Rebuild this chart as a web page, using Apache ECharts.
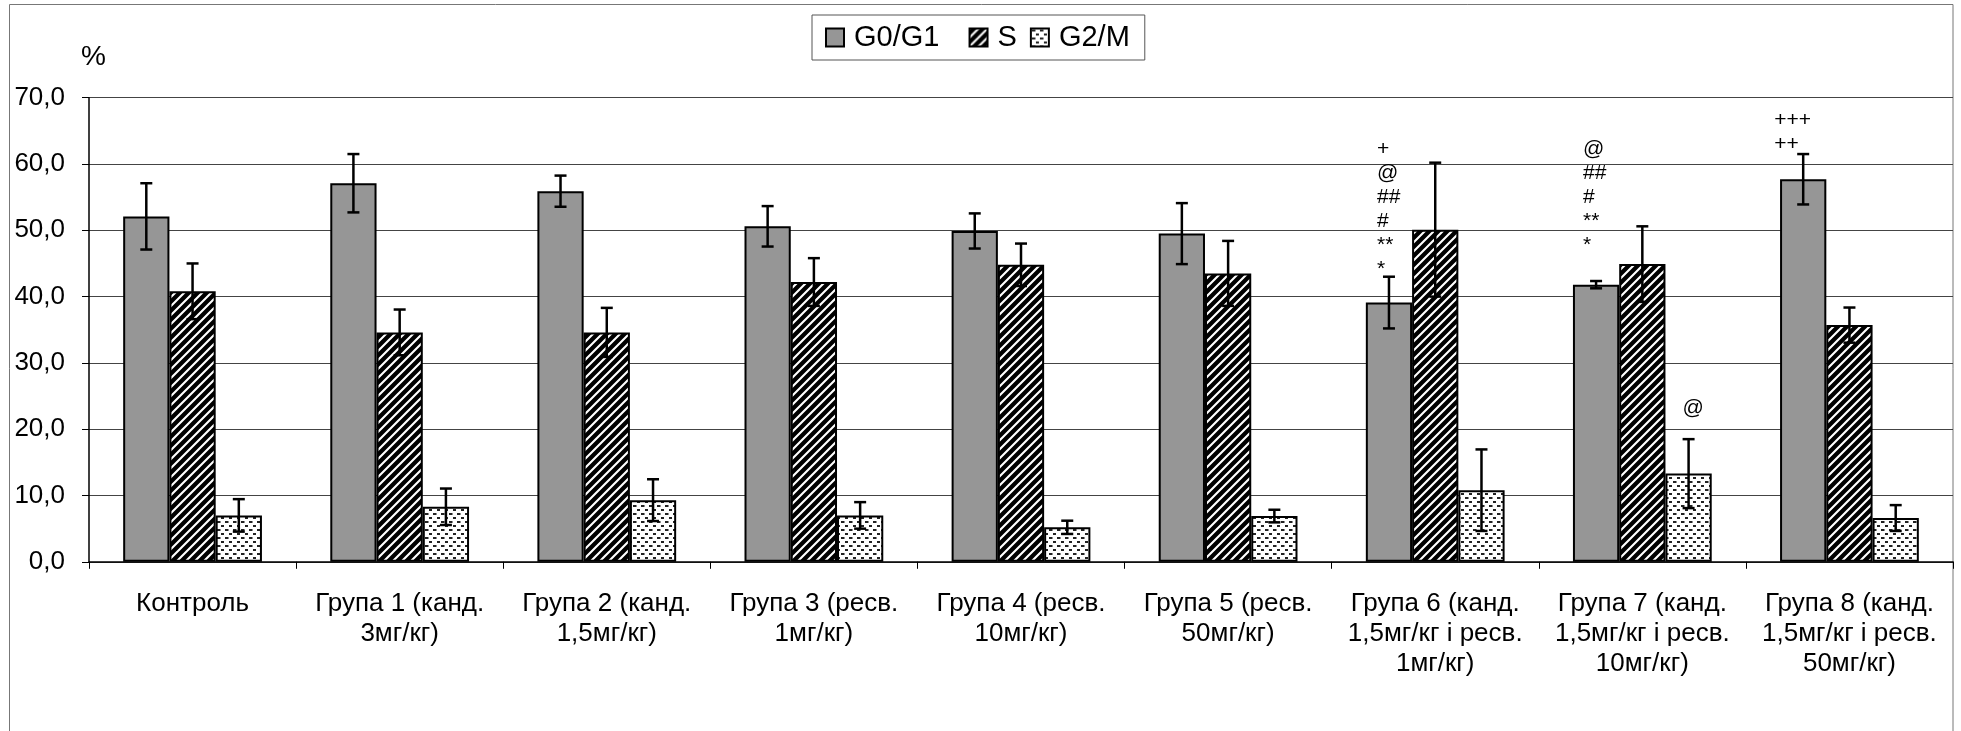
<!DOCTYPE html>
<html>
<head>
<meta charset="utf-8">
<script src="https://cdn.jsdelivr.net/npm/echarts@6/dist/echarts.min.js"></script>
<style>
html,body{margin:0;padding:0;background:#fff;}
#chart{width:1961px;height:731px;}
</style>
</head>
<body>
<div id="chart"></div>
<script>
// ---------- data ----------
const categories = [
  'Контроль',
  'Група 1 (канд.\n3мг/кг)',
  'Група 2 (канд.\n1,5мг/кг)',
  'Група 3 (ресв.\n1мг/кг)',
  'Група 4 (ресв.\n10мг/кг)',
  'Група 5 (ресв.\n50мг/кг)',
  'Група 6 (канд.\n1,5мг/кг і ресв.\n1мг/кг)',
  'Група 7 (канд.\n1,5мг/кг і ресв.\n10мг/кг)',
  'Група 8 (канд.\n1,5мг/кг і ресв.\n50мг/кг)'
];
const seriesNames = ['G0/G1', 'S', 'G2/M'];
const g0Values = [52.1, 57.1, 55.9, 50.6, 49.9, 49.5, 39.1, 41.8, 57.7];
const g0Errors = [5.0, 4.4, 2.35, 3.05, 2.65, 4.6, 3.9, 0.55, 3.8];
const sValues  = [40.8, 34.6, 34.6, 42.2, 44.8, 43.5, 50.1, 44.9, 35.7];
const sErrors  = [4.2, 3.45, 3.7, 3.6, 3.2, 4.9, 10.1, 5.7, 2.65];
const g2Values = [7.0, 8.3, 9.3, 7.0, 5.2, 6.9, 10.8, 13.3, 6.6];
const g2Errors = [2.45, 2.75, 3.15, 2.0, 1.0, 0.95, 6.15, 5.2, 1.95];
const yTickValues = [0, 10, 20, 30, 40, 50, 60, 70];
const yTickLabels = ['0,0', '10,0', '20,0', '30,0', '40,0', '50,0', '60,0', '70,0'];
const yUnit = '%';
// significance marks: which series / category they sit above
const annotationSeries = [0, 0, 0, 2];
const annotationCats   = [6, 7, 8, 7];
const annotationTexts  = ['+\n@\n##\n#\n**\n*', '@\n##\n#\n**\n*', '+++\n++', '@'];
// ---------- style ----------
const annotationOffsets = [[-12, 4], [-13, -24], [-29, 2], [-6, -19]]; // px
const legendTrailingSpaces = [2, 0, 0];
const CAT_GAP = 0.33;
const FONT = '"Liberation Sans", Arial, sans-serif';

const allValues = [g0Values, sValues, g2Values];
const allErrors = [g0Errors, sErrors, g2Errors];

function stripePattern() {
  const n = 9;
  const c = document.createElement('canvas');
  c.width = n; c.height = n;
  const x = c.getContext('2d');
  x.fillStyle = '#000'; x.fillRect(0, 0, n, n);
  x.strokeStyle = '#fff'; x.lineWidth = 2.1;
  x.beginPath();
  x.moveTo(-2, n + 2); x.lineTo(n + 2, -2);
  x.moveTo(-2, 2); x.lineTo(2, -2);
  x.moveTo(n - 2, n + 2); x.lineTo(n + 2, n - 2);
  x.stroke();
  return c;
}
function dotPattern() {
  const c = document.createElement('canvas');
  c.width = 8; c.height = 8;
  const x = c.getContext('2d');
  x.fillStyle = '#fff'; x.fillRect(0, 0, 8, 8);
  x.fillStyle = '#222';
  x.fillRect(1, 1, 3.5, 2);
  x.fillRect(5, 5, 3.5, 2);
  return c;
}
const fills = [
  '#969696',
  { image: stripePattern(), repeat: 'repeat' },
  { image: dotPattern(), repeat: 'repeat' }
];

function barOffset(api, sIdx) {
  const band = api.size([1, 0])[0];
  const bw = band * (1 - CAT_GAP) / 3;
  return (sIdx - 1) * bw;
}

function errorRender(sIdx) {
  return function (params, api) {
    const c = api.value(0), m = api.value(1), e = api.value(2);
    const center = api.coord([c, m]);
    const x = center[0] + barOffset(api, sIdx);
    const yt = api.coord([c, m + e])[1];
    const yb = api.coord([c, m - e])[1];
    const cap = 6;
    const st = { stroke: '#000', lineWidth: 2.5 };
    return {
      type: 'group',
      children: [
        { type: 'line', shape: { x1: x, y1: yt, x2: x, y2: yb }, style: st },
        { type: 'line', shape: { x1: x - cap, y1: yt, x2: x + cap, y2: yt }, style: st },
        { type: 'line', shape: { x1: x - cap, y1: yb, x2: x + cap, y2: yb }, style: st }
      ]
    };
  };
}

function annotationRender(params, api) {
  const k = api.value(1);
  const sIdx = annotationSeries[k];
  const cat = api.value(0);
  const anchor = api.value(2);
  const p = api.coord([cat, anchor]);
  const off = annotationOffsets[k];
  return {
    type: 'text',
    style: {
      text: annotationTexts[k],
      x: p[0] + barOffset(api, sIdx) + off[0],
      y: p[1] + off[1],
      fill: '#000',
      font: '21px ' + FONT,
      align: 'left',
      verticalAlign: 'bottom',
      lineHeight: 24
    }
  };
}

const series = [];
seriesNames.forEach((name, sIdx) => {
  series.push({
    name: name,
    type: 'bar',
    data: allValues[sIdx],
    barGap: '0%',
    barCategoryGap: (CAT_GAP * 100) + '%',
    itemStyle: { color: fills[sIdx], borderColor: '#000', borderWidth: 2 },
    emphasis: { disabled: true },
    z: 2
  });
});
seriesNames.forEach((name, sIdx) => {
  series.push({
    type: 'custom',
    name: name + ' err',
    renderItem: errorRender(sIdx),
    data: categories.map((_, i) => [i, allValues[sIdx][i], allErrors[sIdx][i]]),
    encode: { x: 0, y: 1 },
    z: 5,
    silent: true
  });
});
series.push({
  type: 'custom',
  name: 'marks',
  renderItem: annotationRender,
  data: annotationTexts.map((t, k) => {
    const s = annotationSeries[k], c = annotationCats[k];
    return [c, k, allValues[s][c] + allErrors[s][c]];
  }),
  encode: { x: 0, y: 2 },
  z: 6,
  silent: true
});

const chart = echarts.init(document.getElementById('chart'), null, { renderer: 'canvas' });
chart.setOption({
  animation: false,
  backgroundColor: '#fff',
  textStyle: { fontFamily: FONT },
  legend: {
    data: seriesNames,
    left: 812,
    top: 15,
    padding: [8, 15, 8, 13],
    itemWidth: 18,
    itemHeight: 18,
    itemGap: 13,
    borderColor: '#555',
    borderWidth: 1,
    icon: 'rect',
    selectedMode: false,
    formatter: function (name) {
      const i = seriesNames.indexOf(name);
      return name + '\u00a0'.repeat(legendTrailingSpaces[i]);
    },
    textStyle: {
      fontSize: 29,
      color: '#000',
      fontFamily: FONT,
      padding: [0, 0, 0, 5]
    }
  },
  grid: {
    left: 89, right: 8, top: 97.7, bottom: 169.2,
    outerBoundsMode: 'none'
  },
  xAxis: {
    type: 'category',
    data: categories,
    boundaryGap: true,
    axisLine: { show: true, lineStyle: { color: '#000', width: 1.5 } },
    axisTick: { show: true, length: 7, lineStyle: { color: '#000', width: 1 } },
    axisLabel: {
      interval: 0,
      fontSize: 26,
      lineHeight: 30,
      color: '#000',
      margin: 27,
      fontFamily: FONT
    },
    splitLine: { show: false }
  },
  yAxis: {
    type: 'value',
    min: yTickValues[0],
    max: yTickValues[yTickValues.length - 1],
    interval: yTickValues[1] - yTickValues[0],
    axisLine: { show: true, lineStyle: { color: '#000', width: 1.5 } },
    axisTick: { show: true, length: 7, lineStyle: { color: '#000', width: 1 } },
    axisLabel: {
      fontSize: 26,
      color: '#000',
      margin: 24,
      fontFamily: FONT,
      formatter: function (v) {
        const i = yTickValues.indexOf(v);
        return i >= 0 ? yTickLabels[i] : '';
      }
    },
    splitLine: { show: true, lineStyle: { color: '#444', width: 1 } }
  },
  graphic: [
    {
      type: 'rect',
      shape: { x: 9.5, y: 4.5, width: 1943.5, height: 760 },
      style: { fill: 'none', stroke: '#777', lineWidth: 1 },
      silent: true,
      z: -1
    },
    {
      type: 'text',
      left: 81,
      top: 43,
      style: { text: yUnit, font: '28px ' + FONT, fill: '#000' },
      silent: true
    }
  ],
  series: series
});
</script>
</body>
</html>
